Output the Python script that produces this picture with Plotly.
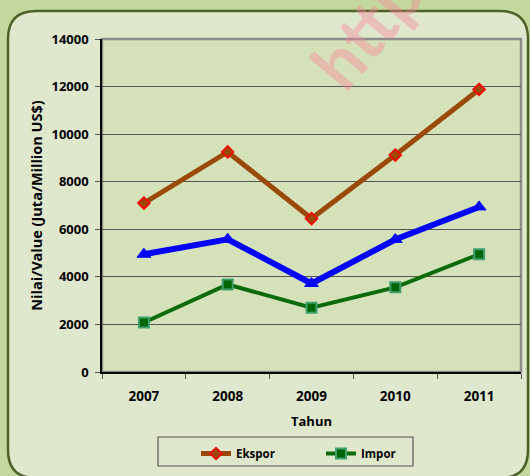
import plotly.graph_objects as go

years = ["2007", "2008", "2009", "2010", "2011"]
ekspor = [7100, 9250, 6450, 9120, 11880]
neraca = [4950, 5580, 3720, 5570, 6940]
impor = [2080, 3680, 2700, 3560, 4950]
y_ticks = [0, 2000, 4000, 6000, 8000, 10000, 12000, 14000]

W, H = 530, 476
L, R, T, B = 102, 9, 39, 104
pw, ph = W - L - R, H - T - B

def px(x):
    return (x - L) / pw

def py(y):
    return (H - B - y) / ph

FONT = "Open Sans, sans-serif"

fig = go.Figure()

fig.add_trace(go.Scatter(
    x=years, y=ekspor, name="Ekspor", mode="lines+markers",
    line=dict(color="#9a4a06", width=5),
    marker=dict(symbol="diamond", size=9, color="#9a4a06",
                line=dict(color="#ff0000", width=1.8)),
))
fig.add_trace(go.Scatter(
    x=years, y=impor, name="Impor", mode="lines+markers",
    line=dict(color="#0b6b0b", width=4),
    marker=dict(symbol="square", size=10, color="#006600",
                line=dict(color="#3f9f6f", width=2)),
))
fig.add_trace(go.Scatter(
    x=years, y=neraca, name="Neraca", mode="lines+markers", showlegend=False,
    line=dict(color="#0000ff", width=6),
    marker=dict(symbol="triangle-up", size=12, color="#0000ff",
                line=dict(color="#0000ff", width=1)),
))

# rounded chart-area frame in pixel coordinates
x0, y0, x1, y1, r = 8, 11, 528, 478, 28
path = (f"M {px(x0+r)},{py(y0)} L {px(x1-r)},{py(y0)} Q {px(x1)},{py(y0)} {px(x1)},{py(y0+r)} "
        f"L {px(x1)},{py(y1-r)} Q {px(x1)},{py(y1)} {px(x1-r)},{py(y1)} "
        f"L {px(x0+r)},{py(y1)} Q {px(x0)},{py(y1)} {px(x0)},{py(y1-r)} "
        f"L {px(x0)},{py(y0+r)} Q {px(x0)},{py(y0)} {px(x0+r)},{py(y0)} Z")

fig.update_layout(
    width=W, height=H,
    margin=dict(l=L, r=R, t=T, b=B, autoexpand=False),
    paper_bgcolor="#c4d79c",
    plot_bgcolor="rgba(0,0,0,0)",
    font=dict(family=FONT, size=12, color="#000000"),
    showlegend=True,
    legend=dict(
        orientation="h", x=px(196), y=py(439), xanchor="left", yanchor="top",
        bgcolor="rgba(0,0,0,0)", borderwidth=0,
        font=dict(size=11.5, family=FONT, weight="bold"),
        itemwidth=30, entrywidth=80, tracegroupgap=0,
    ),
    shapes=[
        dict(type="path", xref="paper", yref="paper", path=path,
             fillcolor="#dfe8cd", line=dict(color="#4f6228", width=2.5), layer="below"),
        dict(type="rect", xref="paper", yref="paper", x0=0, y0=0, x1=1, y1=1,
             fillcolor="#d5e2b9", line=dict(color="#8c8c8c", width=2.5), layer="below"),
        dict(type="rect", xref="paper", yref="paper", x0=px(158), x1=px(413), y0=py(437), y1=py(466),
             fillcolor="rgba(0,0,0,0)", line=dict(color="#555555", width=1.2), layer="below"),
    ],
    annotations=[
        dict(text="http", xref="paper", yref="paper", x=px(366), y=py(28),
             xanchor="center", yanchor="middle",
             showarrow=False, textangle=-50,
             font=dict(size=70, color="rgba(250,130,155,0.40)", family="Lato, sans-serif", weight="bold")),
    ],
)

fig.update_xaxes(
    type="category", range=[-0.5, 4.5],
    showgrid=False, showline=True, linecolor="#000000", linewidth=1.5,
    ticks="outside", tickson="boundaries", ticklen=5, tickcolor="#555555",
    tickfont=dict(size=13.5, weight="bold"), ticklabelstandoff=11,
    title=dict(text="Tahun", font=dict(size=13, weight="bold"), standoff=13),
)
fig.update_yaxes(
    range=[0, 14000], tickvals=y_ticks, ticktext=[str(v) for v in y_ticks],
    showgrid=True, gridcolor="#555555", gridwidth=1,
    showline=True, linecolor="#000000", linewidth=1.5,
    ticks="outside", ticklen=5, tickcolor="#555555", zeroline=False,
    tickfont=dict(size=13, weight="bold"), ticklabelstandoff=4,
    title=dict(text="Nilai/Value (Juta/Million US$)", font=dict(size=14.5, weight="bold"), standoff=5),
)

fig.write_html(
    "out.html",
    config={"displayModeBar": False},
    post_script="document.body.style.margin='0';document.body.style.background='#c4d79c';",
)
